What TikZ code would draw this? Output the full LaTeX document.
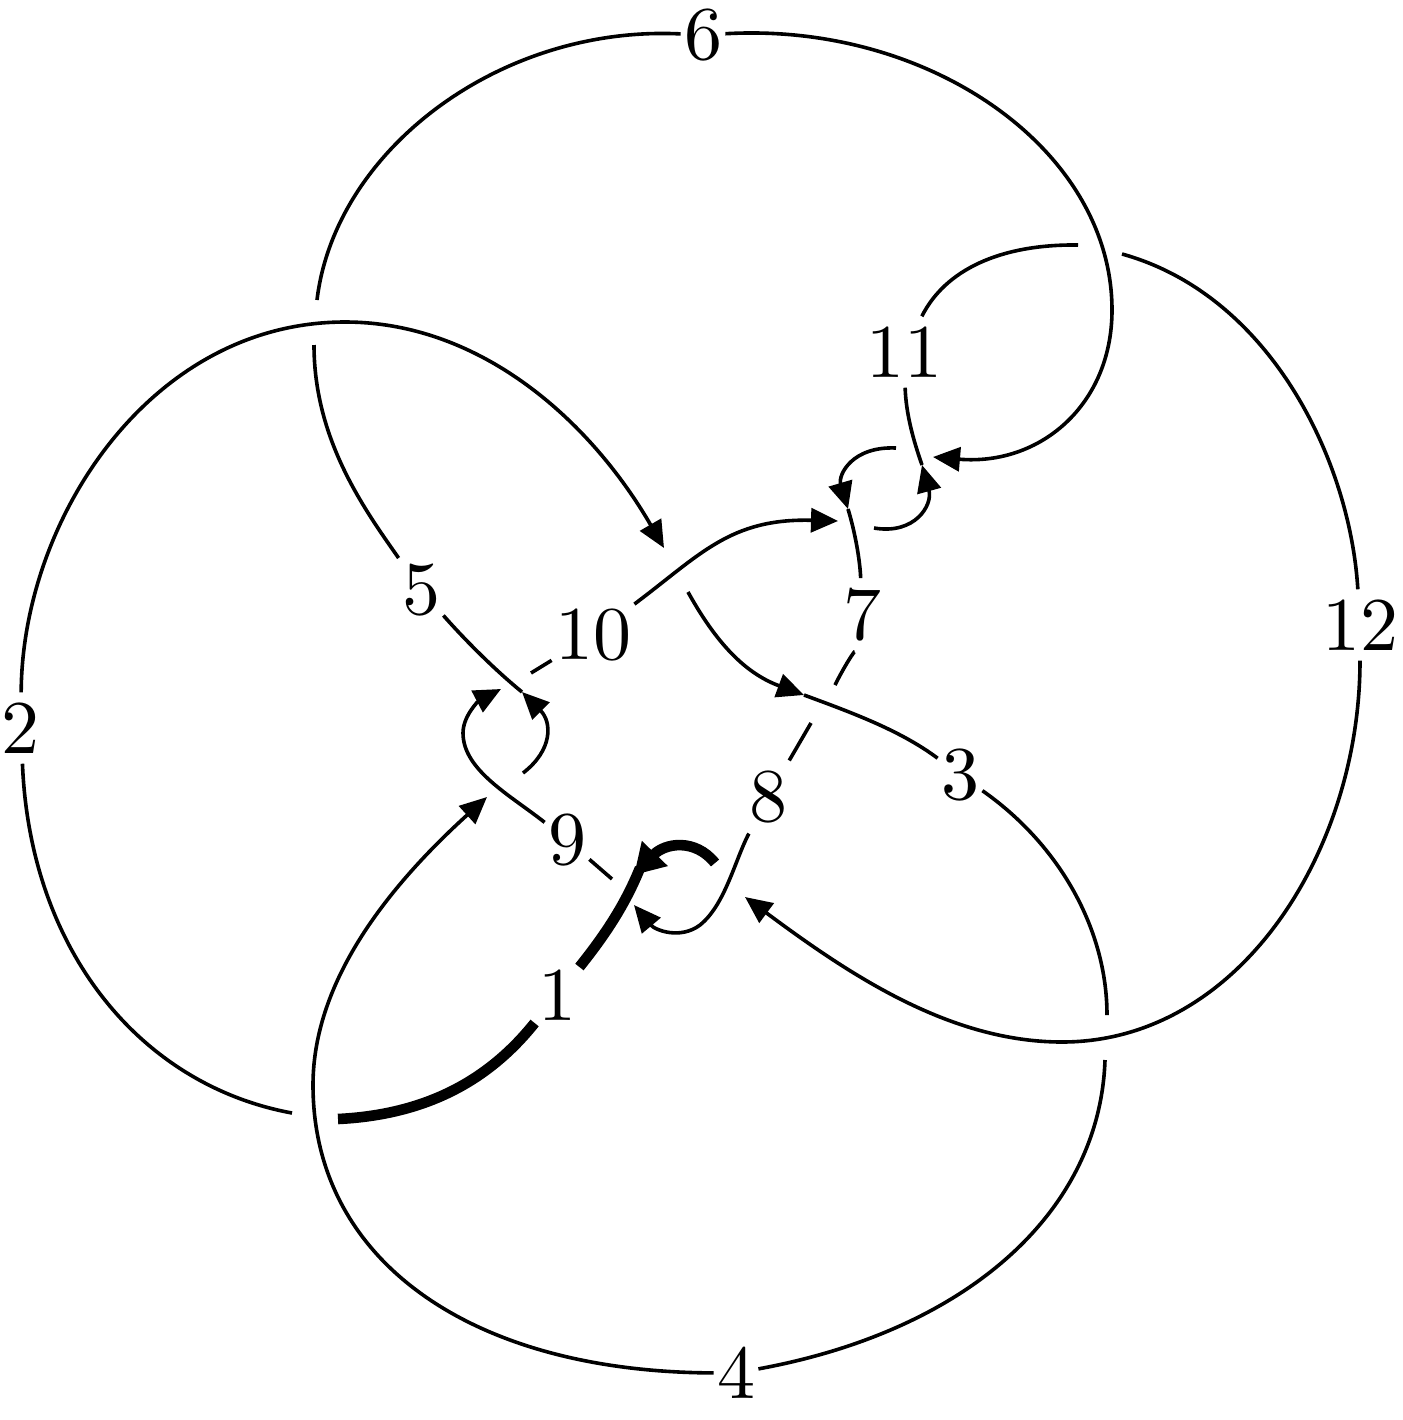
\documentclass[tikz,border=0pt]{standalone}
\usetikzlibrary{arrows.meta}
\newcommand{\lbl}[1]{\scalebox{3.8}{#1}}
\tikzset{
  lab/.style={inner xsep=1.5pt, inner ysep=5pt},
  strand/.style={line width=1.8pt},
  thickstrand/.style={line width=5.3pt},
  tip/.style={-{Triangle[length=13.5pt,width=12pt]}},
  bigtip/.style={-{Triangle[length=15pt,width=17pt]}}
}
\begin{document}
\begin{tikzpicture}[x=0.5pt,y=-0.5pt]
\useasboundingbox (0,0) rectangle (1403,1420);
% labels
\node[lab] (n1) at (557,995) {\lbl{1}};
\node[lab] (n2) at (21,728) {\lbl{2}};
\node[lab] (n3) at (960,775) {\lbl{3}};
\node[lab] (n4) at (736,1373) {\lbl{4}};
\node[lab] (n5) at (421,590) {\lbl{5}};
\node[lab] (n6) at (703,35) {\lbl{6}};
\node[lab] (n7) at (862,615) {\lbl{7}};
\node[lab] (n8) at (768,797) {\lbl{8}};
\node[lab] (n9) at (567,840) {\lbl{9}};
\node[lab] (n10) at (593,635) {\lbl{10}};
\node[lab] (n11) at (904,352) {\lbl{11}};
\node[lab] (n12) at (1360,625) {\lbl{12}};
% free ends at the crossings
\coordinate (a6) at (317,300);
\coordinate (b5) at (314,345);
\coordinate (t11) at (1078,245);
\coordinate (b12) at (1122,254);
\coordinate (x11) at (922,465);
\coordinate (h6) at (933,457);
\coordinate (s7) at (896,448);
\coordinate (x7) at (848,509);
\coordinate (s11) at (874,528);
\coordinate (h10) at (838,521);
\coordinate (h2) at (664,548);
\coordinate (s3) at (688,592);
\coordinate (x3) at (804,695);
\coordinate (s8a) at (835,685);
\coordinate (s8b) at (811,723);
\coordinate (h4) at (487,797);
\coordinate (x5) at (522,692);
\coordinate (s5) at (523,773);
\coordinate (h9) at (501,689);
\coordinate (s10) at (531,673);
\coordinate (s9) at (612,879);
\coordinate (s1) at (715,863);
\coordinate (x1) at (634,875);
\coordinate (e1b) at (640,868);
\coordinate (h8) at (634,905);
\coordinate (h12) at (745,897);
\coordinate (s4) at (1105,1060);
\coordinate (e3) at (1107,1015);
\coordinate (s2) at (292,1113);
\coordinate (e1) at (338,1119);
% strands
\draw[strand] (a6) .. controls (335,150) and (500,25) .. (n6);
\draw[strand,tip] (n6) .. controls (930,22) and (1112,150) .. (1112,310) .. controls (1112,405) and (1040,466) .. (h6);
\draw[strand] (n11) .. controls (945,270) and (1000,244) .. (t11);
\draw[strand] (n11) .. controls (906,415) and (914,442) .. (x11);
\draw[strand,tip] (s11) .. controls (915,535) and (933,505) .. (x11);
\draw[strand] (b12) .. controls (1270,295) and (1350,460) .. (n12);
\draw[strand,tip] (n12) .. controls (1360,850) and (1240,1042) .. (1062,1042) .. controls (950,1042) and (850,975) .. (h12);
\draw[strand] (n7) .. controls (860,560) and (855,532) .. (x7);
\draw[strand,tip] (s7) .. controls (852,446) and (838,475) .. (x7);
\draw[strand,tip] (n10) .. controls (700,555) and (730,518) .. (h10);
\draw[strand] (s10) -- (n10);
\draw[strand] (n7) .. controls (855,650) and (845,665) .. (s8a);
\draw[strand] (s8b) -- (n8);
\draw[strand,tip] (n8) .. controls (735,860) and (725,905) .. (700,925) .. controls (680,940) and (655,930) .. (h8);
\draw[strand,tip] (n2) .. controls (22,520) and (150,322) .. (345,322) .. controls (480,322) and (590,420) .. (h2);
\draw[strand] (n2) .. controls (30,950) and (140,1085) .. (s2);
\draw[strand] (b5) .. controls (314,440) and (365,510) .. (n5);
\draw[strand] (n5) .. controls (465,640) and (495,670) .. (x5);
\draw[strand,tip] (s5) .. controls (553,750) and (552,722) .. (x5);
\draw[strand,tip] (n9) .. controls (510,795) and (463,770) .. (463,733) .. controls (463,715) and (480,700) .. (h9);
\draw[strand] (n9) -- (s9);
\draw[strand,tip] (s3) .. controls (720,650) and (750,675) .. (x3);
\draw[strand] (x3) .. controls (850,712) and (900,730) .. (n3);
\draw[strand] (n3) .. controls (1060,845) and (1107,930) .. (e3);
\draw[strand] (s4) .. controls (1100,1210) and (970,1330) .. (n4);
\draw[strand,tip] (n4) .. controls (470,1372) and (313,1260) .. (313,1085) .. controls (313,980) and (390,885) .. (h4);
\draw[thickstrand] (e1) .. controls (420,1115) and (485,1085) .. (n1);
\draw[thickstrand] (n1) .. controls (605,935) and (625,905) .. (e1b);
\draw[thickstrand,bigtip] (s1) .. controls (695,838) and (665,843) .. (x1);
\end{tikzpicture}
\end{document}
